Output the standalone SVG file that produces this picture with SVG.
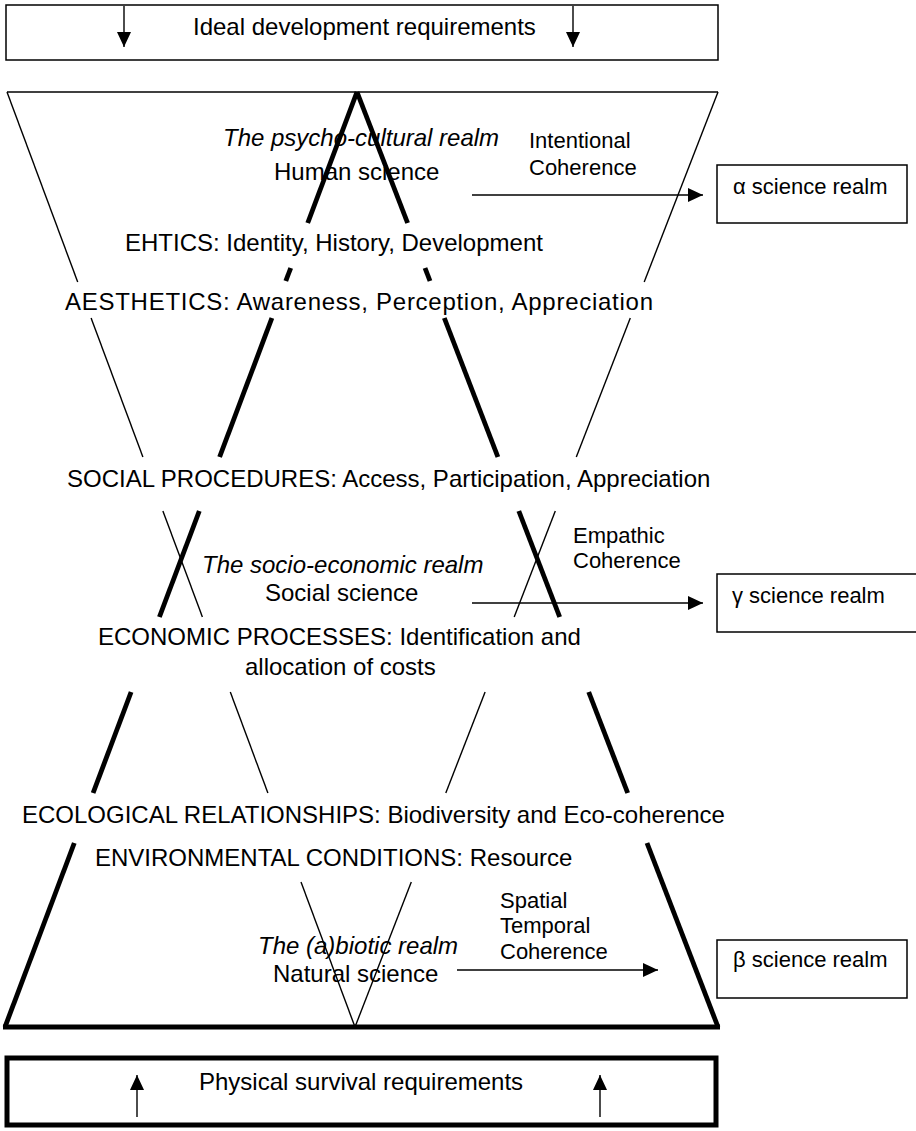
<svg xmlns="http://www.w3.org/2000/svg" width="916" height="1131" viewBox="0 0 916 1131">
<style>
  text { font-family: "Liberation Sans", Arial, sans-serif; fill: #000; }
  .main { font-size: 24px; }
  .it { font-size: 24px; font-style: italic; }
  .small { font-size: 22px; }
  .box { fill: #fff; stroke: #000; stroke-width: 1.5; }
  .boxthick { fill: #fff; stroke: #000; stroke-width: 5; }
  .thin { stroke: #000; stroke-width: 1.4; fill: none; }
  .thick { stroke: #000; stroke-width: 4.8; fill: none; }
  .arrow { stroke: #000; stroke-width: 1.4; fill: none; marker-end: url(#ah); }
</style>
<defs>
  <marker id="ah" markerUnits="userSpaceOnUse" markerWidth="15" markerHeight="14" refX="15" refY="7" orient="auto">
    <path d="M0,0 L15,7 L0,14 Z" fill="#000"/>
  </marker>
</defs>
<rect width="916" height="1131" fill="#fff"/>

<g id="ideal-requirements">
  <rect class="box" x="6" y="5" width="712" height="55"/>
  <text class="main" x="193" y="35">Ideal development requirements</text>
</g>

<g id="physical-requirements">
  <rect class="boxthick" x="7" y="1058" width="709" height="67"/>
  <text class="main" x="199" y="1090">Physical survival requirements</text>
</g>

<g id="realm-frame">
  <line class="thin" x1="7" y1="92" x2="718" y2="92"/>
  <line class="thick" x1="3" y1="1027" x2="720" y2="1027"/>
</g>

<g id="psycho-cultural">
  <text class="it" x="223" y="146">The psycho-cultural realm</text>
  <text class="main" x="274" y="180">Human science</text>
  <text class="main" x="125" y="251">EHTICS: Identity, History, Development</text>
  <text class="main" x="65" y="310" textLength="588" lengthAdjust="spacing">AESTHETICS: Awareness, Perception, Appreciation</text>
  <text class="small" x="529" y="148">Intentional</text>
  <text class="small" x="529" y="175">Coherence</text>
</g>

<g id="socio-economic">
  <text class="main" x="67" y="487">SOCIAL PROCEDURES: Access, Participation, Appreciation</text>
  <text class="it" x="202" y="573">The socio-economic realm</text>
  <text class="main" x="265" y="601">Social science</text>
  <text class="main" x="98" y="645">ECONOMIC PROCESSES: Identification and</text>
  <text class="main" x="245" y="675">allocation of costs</text>
  <text class="small" x="573" y="543">Empathic</text>
  <text class="small" x="573" y="568">Coherence</text>
</g>

<g id="abiotic">
  <text class="main" x="22" y="823">ECOLOGICAL RELATIONSHIPS: Biodiversity and Eco-coherence</text>
  <text class="main" x="95" y="866">ENVIRONMENTAL CONDITIONS: Resource</text>
  <text class="it" x="258" y="954">The (a)biotic realm</text>
  <text class="main" x="273" y="982">Natural science</text>
  <text class="small" x="500" y="908">Spatial</text>
  <text class="small" x="500" y="933">Temporal</text>
  <text class="small" x="500" y="959">Coherence</text>
</g>

<g id="alpha-realm">
  <rect class="box" x="717" y="165" width="190" height="58"/>
  <text class="small" x="733" y="194">α science realm</text>
</g>

<g id="gamma-realm">
  <rect class="box" x="717" y="574" width="230" height="58"/>
  <text class="small" x="732" y="603">γ science realm</text>
</g>

<g id="beta-realm">
  <rect class="box" x="717" y="940" width="190" height="58"/>
  <text class="small" x="733" y="967">β science realm</text>
</g>

<g id="connectors">
  <!-- thick left line -->
  <line class="thick" x1="357" y1="92" x2="307.7" y2="223"/>
  <line class="thick" x1="290.7" y1="268" x2="285.8" y2="281"/>
  <line class="thick" x1="271.9" y1="318" x2="219.6" y2="457"/>
  <line class="thick" x1="199.3" y1="511" x2="159.4" y2="617"/>
  <line class="thick" x1="131.1" y1="692" x2="93.1" y2="793"/>
  <line class="thick" x1="74.3" y1="843" x2="5" y2="1027"/>
  <!-- thick right line -->
  <line class="thick" x1="357" y1="92" x2="407.6" y2="223"/>
  <line class="thick" x1="425" y1="268" x2="430" y2="281"/>
  <line class="thick" x1="444.3" y1="318" x2="497.9" y2="457"/>
  <line class="thick" x1="518.8" y1="511" x2="559.7" y2="617"/>
  <line class="thick" x1="588.7" y1="692" x2="627.7" y2="793"/>
  <line class="thick" x1="647" y1="843" x2="718" y2="1027"/>
  <!-- thin left line -->
  <line class="thin" x1="7" y1="92" x2="77.7" y2="282"/>
  <line class="thin" x1="91.1" y1="318" x2="142.9" y2="457"/>
  <line class="thin" x1="162.9" y1="511" x2="202.4" y2="617"/>
  <line class="thin" x1="230.3" y1="692" x2="267.9" y2="793"/>
  <line class="thin" x1="301" y1="882" x2="355" y2="1027"/>
  <!-- thin right line -->
  <line class="thin" x1="718" y1="92" x2="644.2" y2="282"/>
  <line class="thin" x1="630.3" y1="318" x2="576.3" y2="457"/>
  <line class="thin" x1="555.3" y1="511" x2="514.2" y2="617"/>
  <line class="thin" x1="485.1" y1="692" x2="445.8" y2="793"/>
  <line class="thin" x1="411.3" y1="882" x2="355" y2="1027"/>
  <!-- arrows -->
  <line class="arrow" x1="124" y1="6" x2="124" y2="47"/>
  <line class="arrow" x1="573" y1="6" x2="573" y2="47"/>
  <line class="arrow" x1="137" y1="1117" x2="137" y2="1075"/>
  <line class="arrow" x1="600" y1="1117" x2="600" y2="1075"/>
  <line class="arrow" x1="472" y1="195" x2="703" y2="195"/>
  <line class="arrow" x1="472" y1="603" x2="703" y2="603"/>
  <line class="arrow" x1="457" y1="970" x2="658" y2="970"/>
</g>
</svg>
